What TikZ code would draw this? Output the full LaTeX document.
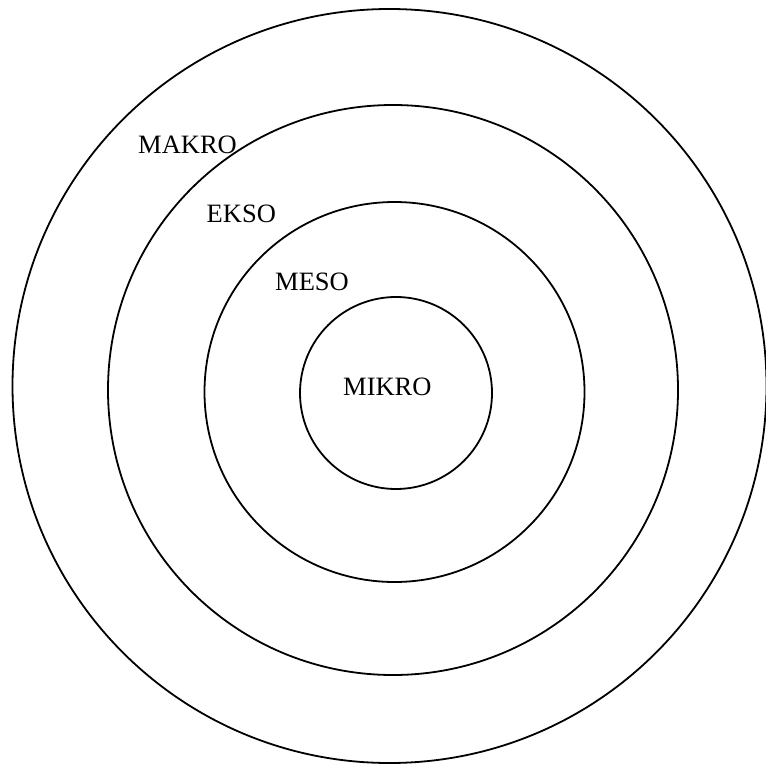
\documentclass[tikz,border=0pt]{standalone}
\usepackage{fontspec}
\setmainfont{Liberation Serif}
\usetikzlibrary{positioning}

\begin{document}
\begin{tikzpicture}[x=1pt, y=-1pt]
    % Styles
    \tikzstyle{ring} = [circle, draw, line width=1.8pt, inner sep=0pt]
    \tikzstyle{ringlabel} = [anchor=base west, inner sep=0pt, font=\fontsize{26.5}{30}\selectfont]

    \useasboundingbox (0,0) rectangle (765,767);

    % Rings
    \node [ring, minimum size=754] (makro) at (389.5,386) {};
    \node [ring, minimum size=570] (ekso) at (393,390) {};
    \node [ring, minimum size=380] (meso) at (394.5,392) {};
    \node [ring, minimum size=192] (mikro) at (396,393) {};

    % Labels
    \node [ringlabel] (makrotext) at (138,154) {MAKRO};
    \node [ringlabel] (eksotext) at (206.5,222.7) {EKSO};
    \node [ringlabel] (mesotext) at (275,290.7) {MESO};
    \node [ringlabel] (mikrotext) at (343,395.7) {MIKRO};
\end{tikzpicture}
\end{document}
